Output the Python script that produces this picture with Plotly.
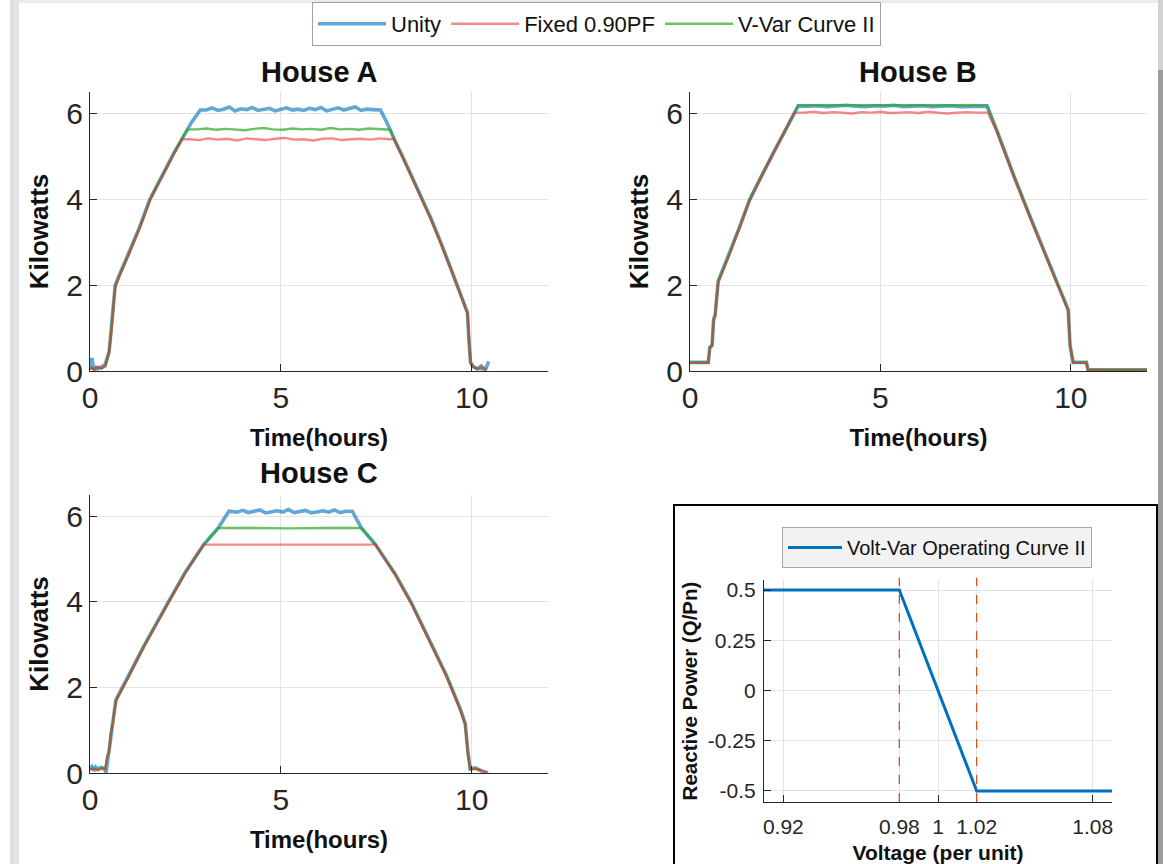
import plotly.graph_objects as go

# ---------------- DATA ----------------
# House A
HA_UNITY_T = [0.00,0.05,0.10,0.15,0.20,0.30,0.40,0.45,0.50,0.55,0.60,0.66,0.80,1.00,1.30,1.57,1.80,2.00,2.20,2.44,2.65,2.89,
              3.05,3.20,3.35,3.50,3.65,3.80,3.95,4.10,4.25,4.40,4.55,4.70,4.85,5.00,5.15,5.30,5.45,5.60,5.75,5.90,6.05,6.20,6.35,6.50,6.65,6.80,6.95,7.10,7.25,7.40,7.61,
              7.80,7.96,8.20,8.50,8.92,9.20,9.50,9.75,9.89,9.93,9.97,10.05,10.15,10.25,10.35,10.45]
HA_UNITY_KW = [0.05,0.30,0.02,0.08,0.05,0.10,0.15,0.30,0.45,0.90,1.40,2.00,2.30,2.70,3.35,4.00,4.40,4.75,5.08,5.45,5.78,6.08,
               6.08,6.13,6.07,6.10,6.15,6.06,6.11,6.09,6.14,6.07,6.10,6.12,6.06,6.09,6.13,6.08,6.10,6.07,6.12,6.09,6.14,6.06,6.10,6.13,6.08,6.11,6.15,6.07,6.10,6.09,6.08,
               5.75,5.42,4.98,4.40,3.58,2.98,2.30,1.70,1.36,0.70,0.20,0.10,0.05,0.12,0.02,0.22]
HA_FIXED_T = [0.00,0.05,0.10,0.20,0.30,0.40,0.45,0.50,0.55,0.60,0.66,0.80,1.00,1.30,1.57,1.80,2.00,2.20,2.41,
              2.60,2.85,3.10,3.35,3.60,3.85,4.10,4.35,4.60,4.85,5.10,5.35,5.60,5.85,6.10,6.35,6.60,6.85,7.10,7.35,7.60,7.85,
              7.96,8.20,8.50,8.92,9.20,9.50,9.75,9.89,9.93,9.97,10.05,10.15,10.25,10.40]
HA_FIXED_KW = [0.05,0.08,0.03,0.10,0.06,0.12,0.28,0.42,0.85,1.35,1.95,2.28,2.68,3.33,3.98,4.38,4.73,5.06,5.40,
               5.40,5.38,5.42,5.39,5.41,5.37,5.42,5.40,5.38,5.41,5.43,5.39,5.40,5.37,5.41,5.42,5.38,5.40,5.41,5.39,5.42,5.40,
               5.41,4.96,4.38,3.56,2.96,2.28,1.68,1.34,0.68,0.18,0.08,0.06,0.10,0.03]
HA_VVAR_T = [0.00,0.05,0.10,0.20,0.30,0.40,0.45,0.50,0.55,0.60,0.66,0.80,1.00,1.30,1.57,1.80,2.00,2.20,2.41,2.55,
             2.80,3.05,3.30,3.55,3.80,4.05,4.30,4.55,4.80,5.05,5.30,5.55,5.80,6.05,6.30,6.55,6.80,7.05,7.30,7.55,7.80,
             7.87,7.96,8.20,8.50,8.92,9.20,9.50,9.75,9.89,9.93,9.97,10.05,10.15,10.30]
HA_VVAR_KW = [0.04,0.07,0.05,0.08,0.06,0.10,0.29,0.44,0.88,1.38,1.98,2.29,2.69,3.34,3.99,4.39,4.74,5.07,5.42,5.63,
              5.63,5.65,5.62,5.64,5.63,5.61,5.64,5.66,5.63,5.62,5.65,5.63,5.64,5.62,5.66,5.63,5.64,5.62,5.65,5.64,5.63,
              5.62,5.42,4.97,4.39,3.57,2.97,2.29,1.69,1.35,0.69,0.19,0.09,0.05,0.04]

# House B
HB_UNITY_T = [0.00,0.48,0.52,0.58,0.62,0.66,0.74,1.00,1.30,1.57,1.92,2.20,2.50,2.84,
              3.10,3.35,3.60,3.85,4.10,4.35,4.60,4.85,5.10,5.35,5.60,5.85,6.10,6.35,6.60,6.85,7.10,7.35,7.60,
              7.80,8.05,8.50,8.92,9.20,9.50,9.80,9.93,9.98,10.06,10.41,10.45,12.00]
HB_UNITY_KW = [0.20,0.20,0.55,0.60,1.20,1.30,2.09,2.65,3.35,4.00,4.63,5.10,5.60,6.17,
               6.17,6.18,6.16,6.17,6.19,6.17,6.16,6.18,6.17,6.19,6.16,6.17,6.18,6.16,6.17,6.18,6.16,6.17,6.17,
               6.17,5.62,4.55,3.62,3.00,2.35,1.70,1.43,0.60,0.20,0.20,0.03,0.03]
HB_FIXED_T = [0.00,0.48,0.52,0.58,0.62,0.66,0.74,1.00,1.30,1.57,1.92,2.20,2.50,2.74,
              3.00,3.25,3.50,3.75,4.00,4.25,4.50,4.75,5.00,5.25,5.50,5.75,6.00,6.25,6.50,6.75,7.00,7.25,7.50,
              7.82,8.05,8.50,8.92,9.20,9.50,9.80,9.93,9.98,10.06,10.41,10.45,12.00]
HB_FIXED_KW = [0.19,0.19,0.53,0.58,1.18,1.28,2.07,2.63,3.33,3.98,4.61,5.08,5.58,6.02,
               6.02,6.04,6.01,6.03,6.02,6.00,6.03,6.02,6.04,6.01,6.02,6.03,6.01,6.04,6.02,6.00,6.02,6.03,6.02,
               6.02,5.60,4.53,3.60,2.98,2.33,1.68,1.41,0.58,0.19,0.19,0.02,0.02]
HB_VVAR_T = [0.00,0.48,0.52,0.58,0.62,0.66,0.74,1.00,1.30,1.57,1.92,2.20,2.50,2.84,7.80,
             8.05,8.50,8.92,9.20,9.50,9.80,9.93,9.98,10.06,10.41,10.45,12.00]
HB_VVAR_KW = [0.20,0.20,0.56,0.61,1.21,1.31,2.09,2.65,3.35,4.00,4.63,5.10,5.60,6.19,6.19,
              5.61,4.54,3.61,2.99,2.34,1.69,1.42,0.59,0.20,0.20,0.03,0.03]

# House C
HC_UNITY_T = [0.00,0.05,0.10,0.15,0.20,0.30,0.38,0.42,0.48,0.55,0.60,0.68,1.00,1.40,2.04,2.50,2.98,3.36,3.64,
              3.85,4.00,4.15,4.30,4.45,4.60,4.75,4.90,5.05,5.20,5.35,5.50,5.65,5.80,5.95,6.10,6.25,6.40,6.55,6.70,
              6.87,7.11,7.48,8.00,8.42,9.00,9.35,9.70,9.83,9.90,9.96,10.10,10.25,10.43]
HC_UNITY_KW = [0.10,0.15,0.05,0.14,0.10,0.13,0.10,0.00,0.40,0.95,1.20,1.71,2.25,2.95,3.98,4.70,5.34,5.73,6.12,
               6.10,6.14,6.09,6.12,6.15,6.08,6.11,6.13,6.10,6.16,6.09,6.12,6.14,6.08,6.11,6.13,6.10,6.15,6.09,6.12,
               6.12,5.73,5.34,4.65,3.98,2.92,2.26,1.50,1.16,0.50,0.10,0.12,0.05,0.00]
HC_FIXED_T = [0.00,0.10,0.20,0.30,0.40,0.45,0.50,0.55,0.60,0.68,1.00,1.40,2.04,2.50,2.98,
              4.00,5.00,6.00,7.00,7.48,8.00,8.42,9.00,9.35,9.70,9.83,9.90,9.96,10.10,10.25,10.40]
HC_FIXED_KW = [0.08,0.10,0.06,0.10,0.09,0.38,0.50,0.93,1.18,1.69,2.23,2.93,3.96,4.68,5.34,
               5.34,5.34,5.35,5.34,5.34,4.63,3.96,2.90,2.24,1.48,1.14,0.48,0.10,0.10,0.06,0.02]
HC_VVAR_T = [0.00,0.10,0.20,0.30,0.40,0.45,0.50,0.55,0.60,0.68,1.00,1.40,2.04,2.50,2.98,3.36,
             4.30,5.20,6.10,7.11,7.48,8.00,8.42,9.00,9.35,9.70,9.83,9.90,9.96,10.10,10.25]
HC_VVAR_KW = [0.09,0.11,0.08,0.12,0.10,0.39,0.50,0.94,1.19,1.70,2.24,2.94,3.97,4.69,5.34,5.73,
              5.73,5.72,5.73,5.73,5.34,4.64,3.97,2.91,2.25,1.49,1.15,0.49,0.08,0.10,0.05]

# Volt-Var operating curve
VOLTAGE = [0.91, 0.98, 1.02, 1.09]
REACTIVE = [0.5, 0.5, -0.5, -0.5]
DEADBAND_EDGES = [0.98, 1.02]

SERIES_NAMES = ["Unity", "Fixed 0.90PF", "V-Var Curve II"]
HOUSE_TITLES = ["House A", "House B", "House C"]
HOUSE_TICKS_X = [0, 5, 10]
HOUSE_TICKS_Y = [0, 2, 4, 6]
VV_TICKS_X = [0.92, 0.98, 1, 1.02, 1.08]
VV_TICKS_Y = [-0.5, -0.25, 0, 0.25, 0.5]

# ---------------- STYLE ----------------
W, H = 1163, 864
FONT = "Liberation Sans, Arial, sans-serif"
INK = "#262626"
GRID = "#E3E3E3"
COL_UNITY = "rgba(0,114,189,0.62)"
COL_FIXED = "rgba(236,40,40,0.55)"
COL_VVAR = "rgba(45,165,35,0.70)"


def fx(p):
    return p / W


def fy(p):
    return 1 - p / H


fig = go.Figure()

houses = [
    (HA_UNITY_T, HA_UNITY_KW, HA_FIXED_T, HA_FIXED_KW, HA_VVAR_T, HA_VVAR_KW),
    (HB_UNITY_T, HB_UNITY_KW, HB_FIXED_T, HB_FIXED_KW, HB_VVAR_T, HB_VVAR_KW),
    (HC_UNITY_T, HC_UNITY_KW, HC_FIXED_T, HC_FIXED_KW, HC_VVAR_T, HC_VVAR_KW),
]
axis_ids = [("x", "y"), ("x2", "y2"), ("x3", "y3")]

for i, (ut, uk, ft, fk, vt, vk) in enumerate(houses):
    xa, ya = axis_ids[i]
    first = i == 0
    fig.add_trace(go.Scatter(x=ut, y=uk, mode="lines", name=SERIES_NAMES[0], legendgroup="u",
                             legendrank=1, showlegend=first, xaxis=xa, yaxis=ya,
                             line=dict(color=COL_UNITY, width=3.6)))
    fig.add_trace(go.Scatter(x=vt, y=vk, mode="lines", name=SERIES_NAMES[2], legendgroup="v",
                             legendrank=3, showlegend=first, xaxis=xa, yaxis=ya,
                             line=dict(color=COL_VVAR, width=2.4)))
    fig.add_trace(go.Scatter(x=ft, y=fk, mode="lines", name=SERIES_NAMES[1], legendgroup="f",
                             legendrank=2, showlegend=first, xaxis=xa, yaxis=ya,
                             line=dict(color=COL_FIXED, width=2.4)))

fig.add_trace(go.Scatter(x=VOLTAGE, y=REACTIVE, mode="lines", name="Volt-Var Operating Curve II",
                         xaxis="x4", yaxis="y4", legend="legend2",
                         line=dict(color="#0072BD", width=3)))

common_axis = dict(
    showline=True, linecolor=INK, linewidth=1.3, mirror=False,
    ticks="inside", ticklen=7, tickcolor=INK, tickwidth=1.3,
    showgrid=True, gridcolor=GRID, gridwidth=1, zeroline=False, automargin=False,
    tickfont=dict(family=FONT, size=30, color=INK),
)

dom_x_left = [fx(90), fx(548)]
dom_x_right = [fx(690), fx(1147)]
dom_y_top = [fy(371), fy(92)]
dom_y_bot = [fy(773), fy(495)]

xtitle = dict(text="Time(hours)", font=dict(family=FONT, size=24, color="#111111", weight="bold"), standoff=16)
ytitle = dict(text="Kilowatts", font=dict(family=FONT, size=26, color="#111111", weight="bold"), standoff=10)

for xa_name, ya_name, xa, ya, dx, dy in [
    ("xaxis", "yaxis", "x", "y", dom_x_left, dom_y_top),
    ("xaxis2", "yaxis2", "x2", "y2", dom_x_right, dom_y_top),
    ("xaxis3", "yaxis3", "x3", "y3", dom_x_left, dom_y_bot),
]:
    fig.update_layout({
        xa_name: dict(common_axis, domain=dx, anchor=ya, range=[0, 12], tickvals=HOUSE_TICKS_X,
                      title=xtitle, ticklabelstandoff=0),
        ya_name: dict(common_axis, domain=dy, anchor=xa, range=[0, 6.5], tickvals=HOUSE_TICKS_Y,
                      title=ytitle, ticklabelstandoff=0),
    })

fig.update_layout(
    xaxis4=dict(common_axis, domain=[fx(764), fx(1112)], anchor="y4", range=[0.91, 1.09],
                tickvals=VV_TICKS_X, ticktext=["0.92", "0.98", "1", "1.02", "1.08"],
                tickfont=dict(family=FONT, size=21, color=INK), ticklabelstandoff=6,
                title=dict(text="Voltage (per unit)", font=dict(family=FONT, size=21, color="#111111", weight="bold"), standoff=8)),
    yaxis4=dict(common_axis, domain=[fy(802), fy(580)], anchor="x4", range=[-0.555, 0.55],
                tickvals=VV_TICKS_Y, ticktext=["-0.5", "-0.25", "0", "0.25", "0.5"],
                tickfont=dict(family=FONT, size=21, color=INK), ticklabelstandoff=3,
                title=dict(text="Reactive Power (Q/Pn)", font=dict(family=FONT, size=20.5, color="#111111", weight="bold"), standoff=4)),
)

for v in DEADBAND_EDGES:
    fig.add_shape(type="line", xref="x4", yref="y4 domain", x0=v, x1=v, y0=0, y1=1.01,
                  line=dict(color="#D95319", width=1.3, dash="dash"))

annotations = []
for title, cx, cy in [(HOUSE_TITLES[0], 319, 72), (HOUSE_TITLES[1], 918, 72), (HOUSE_TITLES[2], 319, 473)]:
    annotations.append(dict(text="<b>%s</b>" % title, x=fx(cx), y=fy(cy), xref="paper", yref="paper",
                            xanchor="center", yanchor="middle", showarrow=False,
                            font=dict(family=FONT, size=29, color="#111111")))

shapes = [
    # window shadow on the left
    dict(type="rect", xref="paper", yref="paper", x0=fx(0), x1=fx(5), y0=0, y1=1, fillcolor="#D4D4D4", line_width=0, layer="below"),
    dict(type="rect", xref="paper", yref="paper", x0=fx(5), x1=fx(10), y0=0, y1=1, fillcolor="#D9D9D9", line_width=0, layer="below"),
    dict(type="rect", xref="paper", yref="paper", x0=fx(10), x1=fx(14), y0=0, y1=1, fillcolor="#DEDEDE", line_width=0, layer="below"),
    dict(type="rect", xref="paper", yref="paper", x0=fx(14), x1=fx(19), y0=0, y1=1, fillcolor="#E4E4E4", line_width=0, layer="below"),
    # top shadow
    dict(type="rect", xref="paper", yref="paper", x0=fx(19), x1=1, y0=fy(3), y1=1, fillcolor="#ECECEC", line_width=0, layer="below"),
    # right shadow
    dict(type="rect", xref="paper", yref="paper", x0=fx(1158), x1=1, y0=0, y1=fy(70), fillcolor="#9C9C9C", line_width=0, layer="above"),
    dict(type="rect", xref="paper", yref="paper", x0=fx(1158), x1=1, y0=fy(70), y1=1, fillcolor="#D2D2D2", line_width=0, layer="above"),
    # inset frame
    dict(type="rect", xref="paper", yref="paper", x0=fx(674), x1=fx(1157), y0=-0.02, y1=fy(505),
         line=dict(color="#000000", width=2), fillcolor="rgba(0,0,0,0)", layer="above"),
]

fig.update_layout(
    width=W, height=H,
    margin=dict(l=0, r=0, t=0, b=0, autoexpand=False),
    paper_bgcolor="#FFFFFF", plot_bgcolor="#FFFFFF",
    font=dict(family=FONT, color=INK),
    showlegend=True,
    legend=dict(orientation="h", x=fx(312), xanchor="left", y=fy(2), yanchor="top",
                bgcolor="#FFFFFF", bordercolor="#A0A0A0", borderwidth=1,
                font=dict(family=FONT, size=22, color="#111111"), itemwidth=68,
                traceorder="normal"),
    legend2=dict(orientation="h", x=fx(782), xanchor="left", y=fy(527), yanchor="top",
                 bgcolor="#F2F2F2", bordercolor="#A6A6A6", borderwidth=1,
                 font=dict(family=FONT, size=20, color="#111111"), itemwidth=54),
    annotations=annotations,
    shapes=shapes,
)

fig.write_html("out.html")
